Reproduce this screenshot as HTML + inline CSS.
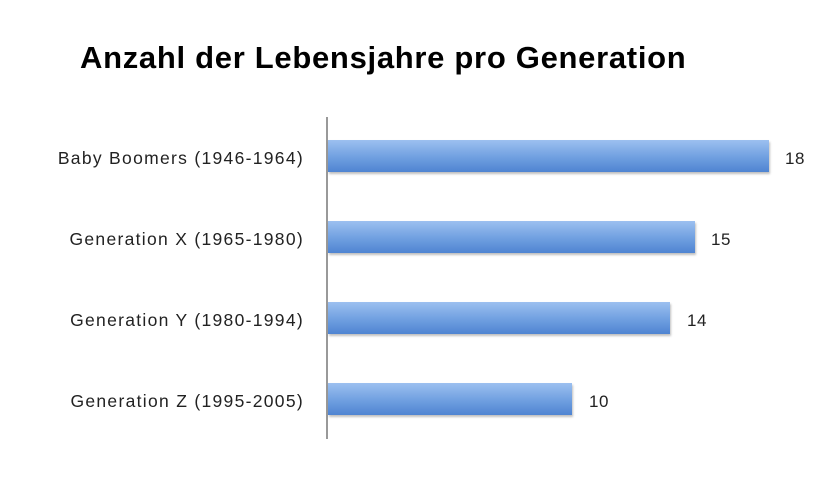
<!DOCTYPE html>
<html><head><meta charset="utf-8"><style>
body{margin:0;background:#fff;width:839px;height:489px;overflow:hidden;font-family:"Liberation Sans",sans-serif;}
.t{position:absolute;left:80px;top:40px;font-size:31px;font-weight:bold;color:#000;letter-spacing:0.7px;white-space:nowrap;}
.ax{position:absolute;left:326px;top:117px;width:2px;height:322px;background:#999;}
.b{position:absolute;left:328px;height:32px;background:linear-gradient(#9cc0f0,#6f9fe0 55%,#4f84d2);box-shadow:1px 2px 2px rgba(0,0,0,0.25);}
.l{position:absolute;right:535px;font-size:17.5px;color:#222;text-align:right;white-space:nowrap;letter-spacing:1.3px;}
.v{position:absolute;font-size:17px;color:#222;letter-spacing:0.5px;}
</style></head><body>
<div class="t">Anzahl der Lebensjahre pro Generation</div>
<div class="ax"></div>
<div class="b" style="top:140px;width:441px"></div>
<div class="b" style="top:221px;width:367px"></div>
<div class="b" style="top:302px;width:342px"></div>
<div class="b" style="top:383px;width:244px"></div>
<div class="l" style="top:148px">Baby Boomers (1946-1964)</div>
<div class="l" style="top:229px">Generation X (1965-1980)</div>
<div class="l" style="top:310px">Generation Y (1980-1994)</div>
<div class="l" style="top:391px">Generation Z (1995-2005)</div>
<div class="v" style="left:785px;top:149px">18</div>
<div class="v" style="left:711px;top:230px">15</div>
<div class="v" style="left:687px;top:311px">14</div>
<div class="v" style="left:589px;top:392px">10</div>
</body></html>
